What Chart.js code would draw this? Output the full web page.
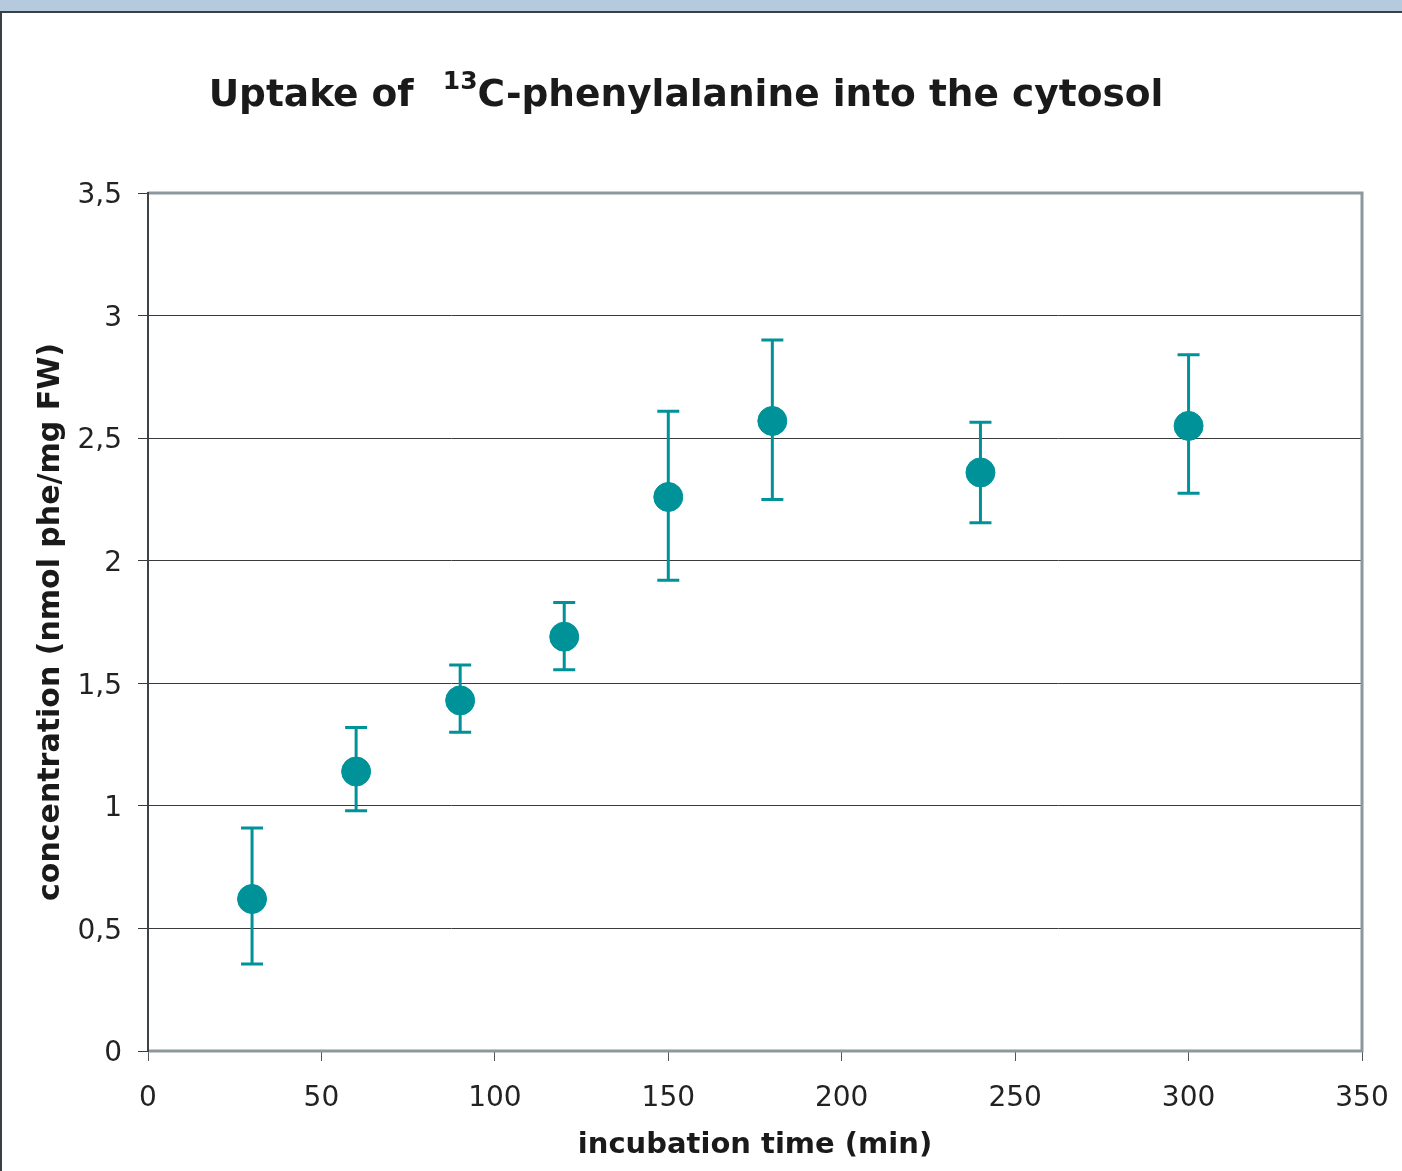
<!DOCTYPE html>
<html>
<head>
<meta charset="utf-8">
<script src="https://cdn.jsdelivr.net/npm/chart.js@4.4.0/dist/chart.umd.min.js"></script>
<style>
  body { margin: 0; background: #fff; }
  #wrap { position: relative; width: 1402px; height: 1171px; overflow: hidden; }
  #band { position: absolute; left: 0; top: 0; width: 1402px; height: 11px; background: #b6cadd; border-bottom: 2px solid #3a3f44; }
  #leftline { position: absolute; left: 0; top: 11px; width: 2px; height: 1160px; background: #3a3f44; }
  #title { position: absolute; left: 0; top: 73px; width: 1372px; text-align: center;
    font-family: "DejaVu Sans", Verdana, sans-serif; font-weight: bold; font-size: 37.5px; line-height: 40px; color: #1a1a1a; }
  #title sup { font-size: 25px; line-height: 0; position: relative; top: -4px; margin-left: 16px; }
  canvas { position: absolute; left: 0; top: 0; }
</style>
</head>
<body>
<div id="wrap">
  <canvas id="chartUptake" width="1402" height="1171"></canvas>
  <div id="band"></div>
  <div id="leftline"></div>
  <div id="title">Uptake of <sup>13</sup>C-phenylalanine into the cytosol</div>
</div>
<script>
// incubation time (min)
const times = [30, 60, 90, 120, 150, 180, 240, 300];
// concentration (nmol phe/mg FW)
const concentration = [0.62, 1.14, 1.43, 1.69, 2.26, 2.57, 2.36, 2.55];
// error bar ends
const errHigh = [0.91, 1.32, 1.575, 1.83, 2.61, 2.90, 2.565, 2.84];
const errLow = [0.355, 0.98, 1.30, 1.555, 1.92, 2.25, 2.155, 2.275];

const teal = '#009299';

const errorBars = {
  id: 'errorBars',
  beforeDatasetsDraw(chart) {
    const ctx = chart.ctx;
    const xs = chart.scales.x, ys = chart.scales.y;
    ctx.save();
    ctx.strokeStyle = teal;
    ctx.lineWidth = 3;
    for (let i = 0; i < times.length; i++) {
      const x = xs.getPixelForValue(times[i]);
      const yHi = ys.getPixelForValue(errHigh[i]);
      const yLo = ys.getPixelForValue(errLow[i]);
      ctx.beginPath();
      ctx.moveTo(x, yHi); ctx.lineTo(x, yLo);
      ctx.moveTo(x - 11, yHi); ctx.lineTo(x + 11, yHi);
      ctx.moveTo(x - 11, yLo); ctx.lineTo(x + 11, yLo);
      ctx.stroke();
    }
    ctx.restore();
  }
};

const plotFrame = {
  id: 'plotFrame',
  beforeDatasetsDraw(chart) {
    const {left, right, top, bottom} = chart.chartArea;
    const ctx = chart.ctx;
    ctx.save();
    ctx.strokeStyle = '#8c979e';
    ctx.lineWidth = 3;
    ctx.beginPath();
    ctx.moveTo(left, top); ctx.lineTo(right, top); ctx.lineTo(right, bottom); ctx.lineTo(left, bottom);
    ctx.stroke();
    ctx.strokeStyle = '#3c4246';
    ctx.lineWidth = 2;
    ctx.beginPath();
    ctx.moveTo(left, top - 1); ctx.lineTo(left, bottom + 1);
    ctx.stroke();
    ctx.restore();
  }
};

const data = {
  datasets: [{
    data: times.map((t, i) => ({x: t, y: concentration[i]})),
    backgroundColor: teal,
    borderColor: teal,
    pointRadius: 14.5,
    pointHoverRadius: 14.5,
    showLine: false
  }]
};

const config = {
  type: 'scatter',
  data: data,
  options: {
    responsive: false,
    animation: false,
    events: [],
    layout: { padding: { left: 0, top: 193, right: 40, bottom: 0 } },
    plugins: { legend: { display: false }, tooltip: { enabled: false } },
    scales: {
      x: {
        type: 'linear', min: 0, max: 350,
        afterFit(scale) {
          scale.height = 120;
          scale.paddingLeft = 0;
          scale.paddingRight = 0;
        },
        ticks: { stepSize: 50, padding: 21, color: '#222', font: { family: 'DejaVu Sans', size: 28 } },
        grid: { drawOnChartArea: false, tickLength: 10, color: '#555' },
        border: { display: false },
        title: { display: true, text: 'incubation time (min)', color: '#1a1a1a',
          font: { family: 'DejaVu Sans', size: 29, weight: 'bold' }, padding: { top: 0, bottom: 8 } }
      },
      y: {
        min: 0, max: 3.5,
        afterFit(scale) { scale.width = 148; },
        ticks: { stepSize: 0.5, padding: 16, labelOffset: 3, color: '#222', font: { family: 'DejaVu Sans', size: 28 },
          callback: v => v.toString().replace('.', ',') },
        grid: { color: '#3a3a3a', lineWidth: 1, tickLength: 10 },
        border: { display: false },
        title: { display: true, text: 'concentration (nmol phe/mg FW)', color: '#1a1a1a',
          font: { family: 'DejaVu Sans', size: 30, weight: 'bold' }, padding: { top: 33, bottom: 0 } }
      }
    }
  },
  plugins: [plotFrame, errorBars]
};

const chartUptake = new Chart(document.getElementById('chartUptake'), config);
</script>
</body>
</html>
